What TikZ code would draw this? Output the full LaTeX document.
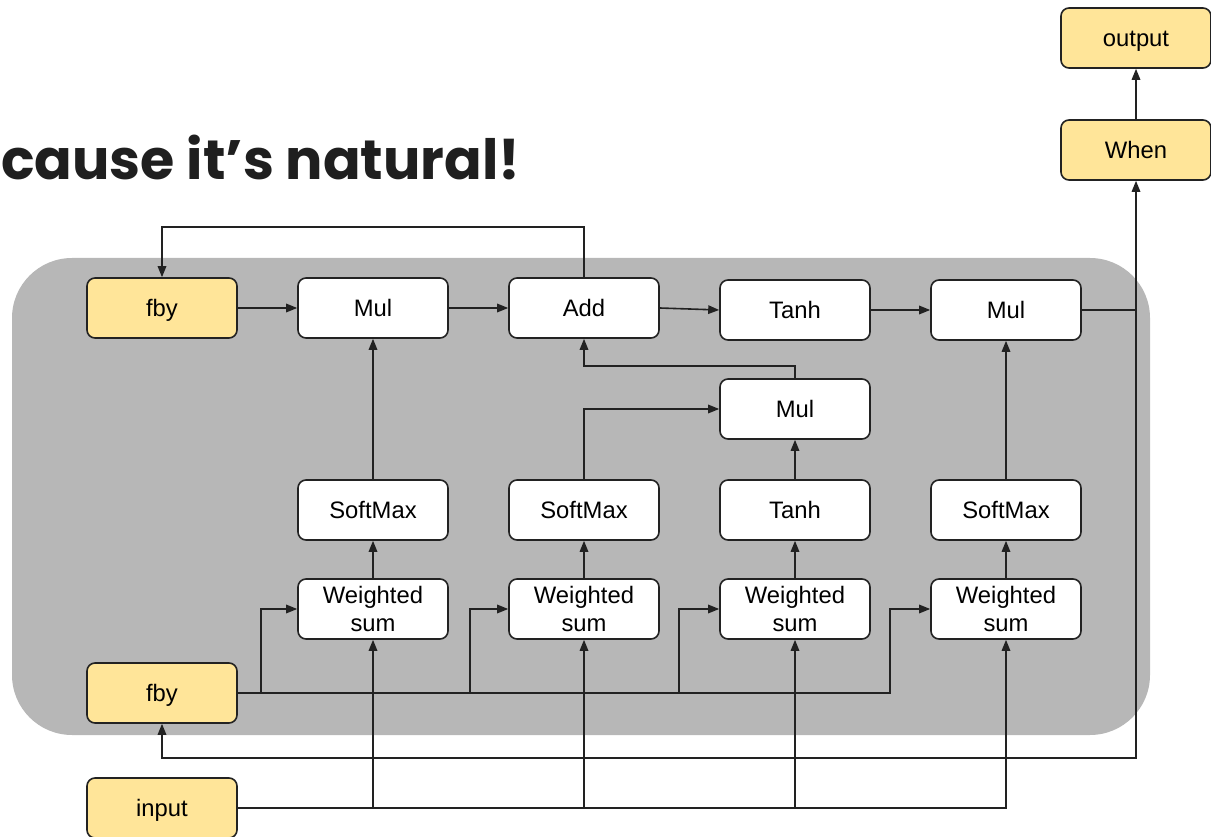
\documentclass[tikz,border=0pt]{standalone}
\usepackage{fontspec}
\setmainfont{Liberation Sans}
\newfontfamily\titlefont{Poppins}
\usetikzlibrary{arrows.meta,calc}
\definecolor{linec}{HTML}{222222}
\definecolor{yel}{HTML}{FFE599}
\definecolor{panel}{HTML}{B7B7B7}
\definecolor{titlec}{HTML}{1F1F1F}
\begin{document}
\begin{tikzpicture}[x=1pt,y=-1pt,
  base/.style={draw=linec, line width=1.6pt, rounded corners=8pt, fill=white,
    minimum width=150pt, minimum height=60pt, inner sep=0pt, align=center,
    font=\fontsize{23.8}{28}\selectfont},
  box/.style={base, text height=17pt, text depth=0pt},
  ybox/.style={box, fill=yel},
  wsbox/.style={base},
  arr/.style={draw=linec, line width=1.6pt, -{Triangle[length=11pt,width=8.5pt]}},
  wire/.style={draw=linec, line width=1.6pt}]
\useasboundingbox (0,0) rectangle (1211,837);

% heading
\node[anchor=base west, inner sep=0pt, text=titlec,
  font=\titlefont\bfseries\fontsize{55.5}{60}\selectfont] (title) at (1,180) {cause it’s natural!};

% shaded cell body
\fill[panel, rounded corners=60pt] (12,258) rectangle (1150,735);

% top row
\node[ybox] (fbyA) at (162,308) {fby};
\node[box]  (mulA) at (373,308) {Mul};
\node[box]  (add)  at (584,308) {Add};
\node[box]  (tanhA) at (795,310) {Tanh};
\node[box]  (mulC) at (1006,310) {Mul};

% middle
\node[box]  (mulB) at (795,409) {Mul};

% gates
\node[box] (smA) at (373,510) {SoftMax};
\node[box] (smB) at (584,510) {SoftMax};
\node[box] (tanhB) at (795,510) {Tanh};
\node[box] (smC) at (1006,510) {SoftMax};

\node[wsbox] (wsA) at (373,609) {Weighted\\sum};
\node[wsbox] (wsB) at (584,609) {Weighted\\sum};
\node[wsbox] (wsC) at (795,609) {Weighted\\sum};
\node[wsbox] (wsD) at (1006,609) {Weighted\\sum};

\node[ybox] (fbyB) at (162,693) {fby};
\node[ybox] (input) at (162,808) {input};

% output side
\node[ybox] (when) at (1136,150) {When};
\node[ybox] (output) at (1136,38) {output};

% cell state loop
\draw[arr] (add.north) -- ++(0,-50) -| (fbyA.north);
\draw[arr] (fbyA) -- (mulA);
\draw[arr] (mulA) -- (add);
\draw[arr] (add.east) -- (tanhA.west);
\draw[arr] (tanhA) -- (mulC);

% hidden state out and back
\coordinate (jn) at (when.south |- mulC.east);
\coordinate (fb) at (1136,758);
\draw[wire] (mulC.east) -- (jn);
\draw[arr] (jn) -- (when.south);
\draw[arr] (jn) -- (fb) -| (fbyB.south);
\draw[arr] (when) -- (output);

% gates into products
\draw[arr] (smA) -- (mulA);
\draw[arr] (smC) -- (mulC);
\draw[arr] (smB.north) |- (mulB.west);
\draw[arr] (tanhB) -- (mulB);
\draw[arr] (mulB.north) -- ++(0,-12) -| (add.south);

\draw[arr] (wsA) -- (smA);
\draw[arr] (wsB) -- (smB);
\draw[arr] (wsC) -- (tanhB);
\draw[arr] (wsD) -- (smC);

% previous hidden state into each weighted sum
\foreach \w/\d in {wsA/36, wsB/38, wsC/40, wsD/40}
  \draw[arr] (fbyB.east) -| ($(\w.west)+(-\d,0)$) -- (\w.west);

% input into each weighted sum
\foreach \w in {wsA, wsB, wsC, wsD}
  \draw[arr] (input.east) -| (\w.south);
\end{tikzpicture}
\end{document}
